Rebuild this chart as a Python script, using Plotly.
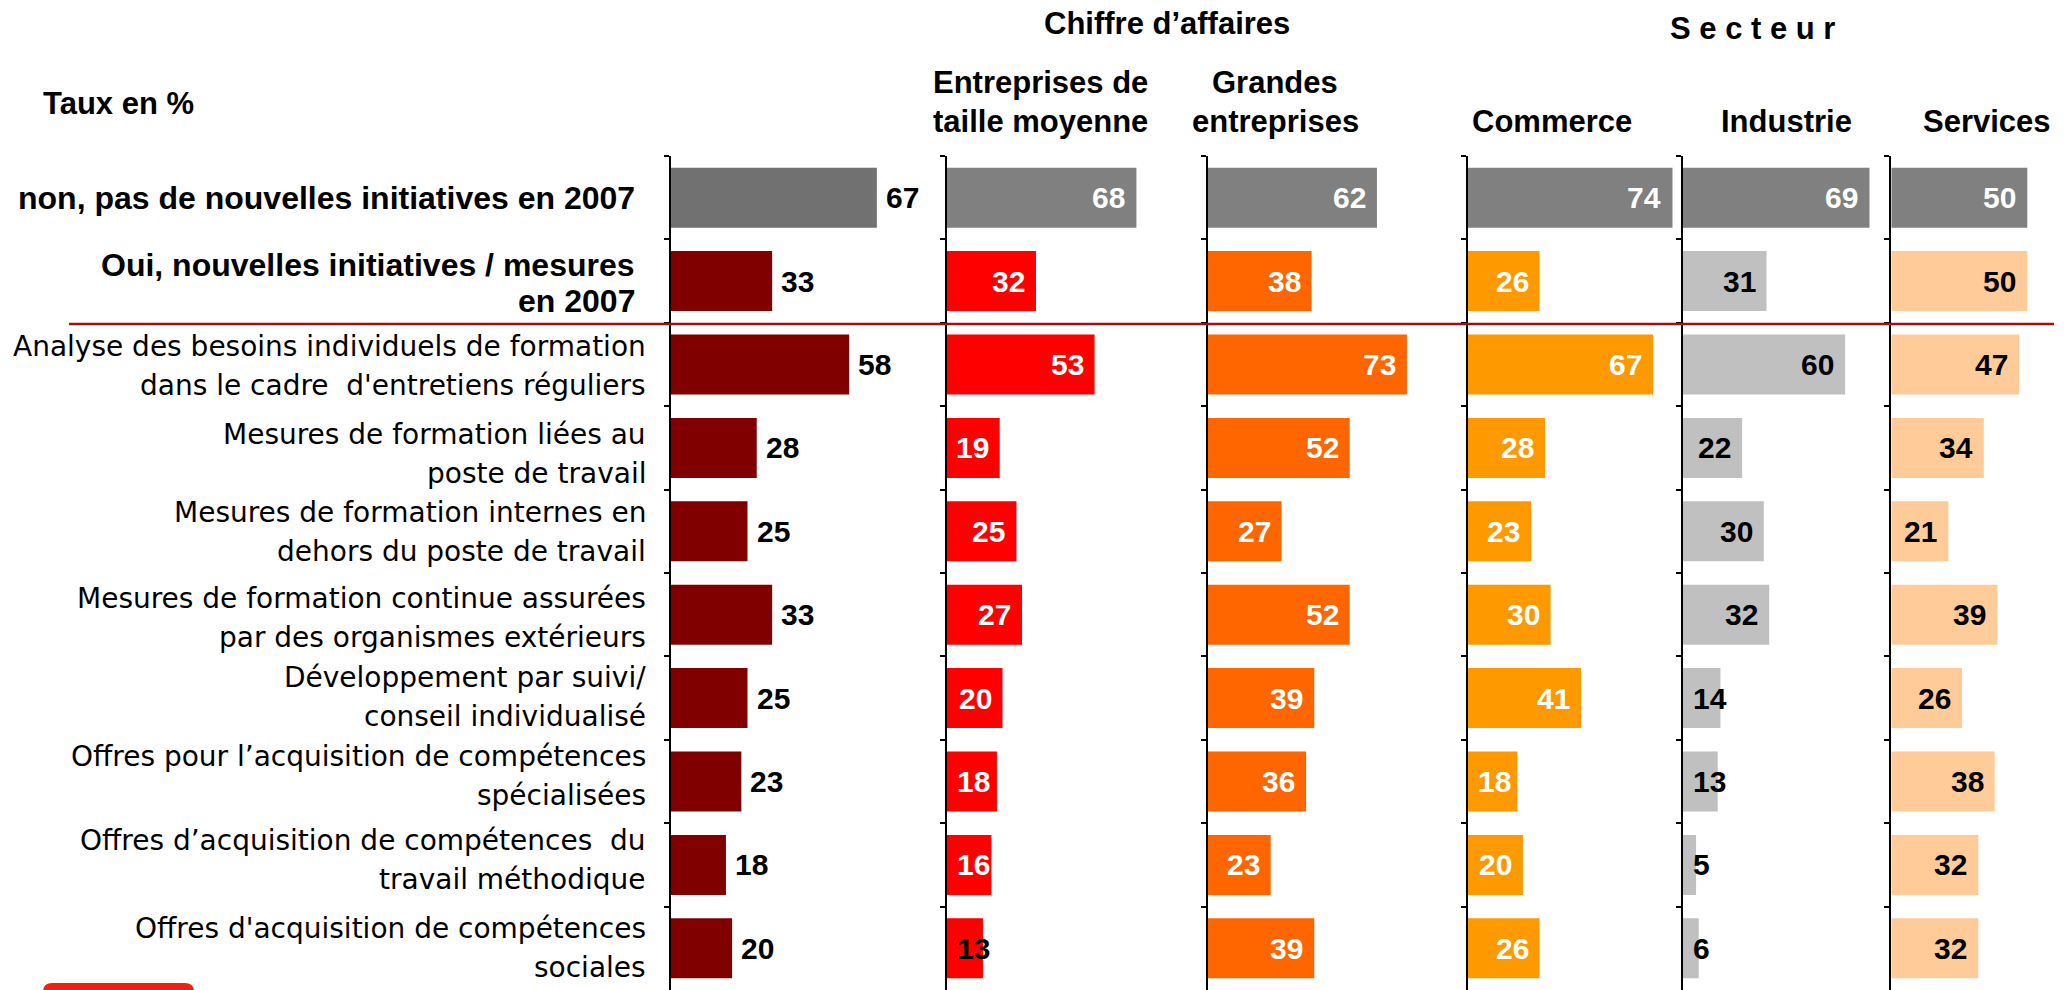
import plotly.graph_objects as go

W, H = 2064, 990

# ---- data -------------------------------------------------------------
categories = [
    "non, pas de nouvelles initiatives en 2007",
    "Oui, nouvelles initiatives / mesures<br>en 2007",
    "Analyse des besoins individuels de formation<br>dans le cadre \u00a0d'entretiens réguliers",
    "Mesures de formation liées au<br>poste de travail",
    "Mesures de formation internes en<br>dehors du poste de travail",
    "Mesures de formation continue assurées<br>par des organismes extérieurs",
    "Développement par suivi/<br>conseil individualisé",
    "Offres pour l’acquisition de compétences<br>spécialisées",
    "Offres d’acquisition de compétences \u00a0du<br>travail méthodique",
    "Offres d'acquisition de compétences<br>sociales",
]
bold_categories = 2  # the two answer rows above the separator

total = [67, 33, 58, 28, 25, 33, 25, 23, 18, 20]
taille_moyenne = [68, 32, 53, 19, 25, 27, 20, 18, 16, 13]
grandes = [62, 38, 73, 52, 27, 52, 39, 36, 23, 39]
commerce = [74, 26, 67, 28, 23, 30, 41, 18, 20, 26]
industrie = [69, 31, 60, 22, 30, 32, 14, 13, 5, 6]
services = [50, 50, 47, 34, 21, 39, 26, 38, 32, 32]

column_headers = [
    [],
    ["Entreprises de", "taille moyenne"],
    ["Grandes", "entreprises"],
    ["Commerce"],
    ["Industrie"],
    ["Services"],
]
group_headers = ["Chiffre d’affaires", "S e c t e u r"]
unit_title = "Taux en %"

# ---- styling ----------------------------------------------------------
BOLD = "Liberation Sans, Arial, sans-serif"
REG = "DejaVu Sans, Liberation Sans, sans-serif"
VFS = 30      # value label size
LFS = 28      # row label size
HFS = 31      # header size
BFS = 32      # bold row label size

# vertical nudge (px, downwards) of each row label block
label_nudge = [0, 2, 1.5, 6, 1, 3, -1, -6, -4.5, 0]

panels = [
    dict(values=total, x0=670.5, ppu=3.08, gray="#717171", color="#800000",
         outside=True, tcol=["black"] * 10),
    dict(values=taille_moyenne, x0=946.7, ppu=2.79, gray="#808080", color="#FF0000",
         outside=False, tcol=["white"] * 9 + ["black"]),
    dict(values=grandes, x0=1208, ppu=2.725, gray="#808080", color="#FF6600",
         outside=False, tcol=["white"] * 10),
    dict(values=commerce, x0=1467.5, ppu=2.77, gray="#808080", color="#FF9900",
         outside=False, tcol=["white"] * 10),
    dict(values=industrie, x0=1682.5, ppu=2.71, gray="#808080", color="#C0C0C0",
         outside=False, tcol=["white"] + ["black"] * 9),
    dict(values=services, x0=1891.3, ppu=2.72, gray="#808080", color="#FFCC99",
         outside=False, tcol=["white"] + ["black"] * 9),
]

PLOT_TOP = 156  # px from top where the category rows start
y_dom = [0, 1 - PLOT_TOP / H]


def px(xp):
    return xp / W


def py(yp):
    return 1 - yp / H


fig = go.Figure()
annotations = []
layout_axes = {}

for i, p in enumerate(panels):
    n = i + 1
    xname = "x" if n == 1 else f"x{n}"
    yname = "y" if n == 1 else f"y{n}"
    nxt = panels[i + 1]["x0"] if i + 1 < len(panels) else W
    end = nxt - 6 if i + 1 < len(panels) else W - 1
    rmax = (end - p["x0"]) / p["ppu"]

    colors = [p["gray"]] + [p["color"]] * (len(categories) - 1)
    fig.add_trace(go.Bar(
        x=p["values"], y=categories, orientation="h",
        marker=dict(color=colors, line=dict(width=0)),
        xaxis=xname, yaxis=yname, hoverinfo="skip", showlegend=False,
    ))

    layout_axes["xaxis" if n == 1 else f"xaxis{n}"] = dict(
        domain=[px(p["x0"]), px(end)], range=[0, rmax], visible=False,
        anchor=yname, fixedrange=True,
    )
    layout_axes["yaxis" if n == 1 else f"yaxis{n}"] = dict(
        domain=y_dom, anchor=xname, type="category",
        categoryorder="array", categoryarray=categories,
        range=[len(categories) - 0.5, -0.5],
        showline=True, linecolor="black", linewidth=2,
        ticks="outside", tickson="boundaries", ticklen=5, tickwidth=2,
        tickcolor="black", showticklabels=False, showgrid=False,
        zeroline=False, fixedrange=True,
    )

    # value labels
    for j, v in enumerate(p["values"]):
        txt = f"<b>{v}</b>"
        base = dict(xref=xname, yref=yname, y=categories[j], yanchor="middle",
                    showarrow=False, borderpad=0, text=txt,
                    font=dict(family=BOLD, size=VFS, color=p["tcol"][j]))
        if p["outside"]:
            annotations.append(dict(base, x=v, xanchor="left", xshift=8))
        else:
            w = len(str(v)) * 0.556 * VFS
            if v * p["ppu"] - 10 - w >= 9:
                annotations.append(dict(base, x=v, xanchor="right", xshift=-10))
            else:
                annotations.append(dict(base, x=0, xanchor="left", xshift=9))

# row labels, one annotation per line so the line spacing stays tight
for j, cat in enumerate(categories):
    lines = cat.split("<br>")
    bold = j < bold_categories
    if bold:
        xr = 636
        offs = [0] if len(lines) == 1 else [-18, 18]
        fnt = dict(family=BOLD, size=BFS, color="black")
    else:
        xr = 647
        offs = [0] if len(lines) == 1 else [-19.5, 19.5]
        fnt = dict(family=REG, size=LFS, color="black")
    for line, o in zip(lines, offs):
        annotations.append(dict(
            xref="paper", yref="y", x=px(xr), y=cat, xanchor="right",
            yanchor="middle", yshift=-(o + label_nudge[j]), showarrow=False,
            borderpad=0, text=f"<b>{line}</b>" if bold else line, font=fnt,
        ))

# headers
hdr_font = dict(family=BOLD, size=HFS, color="black")
annotations.append(dict(xref="paper", yref="paper", x=px(41), y=py(103),
                        xanchor="left", yanchor="middle", showarrow=False,
                        text=f"<b>{unit_title}</b>", font=hdr_font))
annotations.append(dict(xref="paper", yref="paper", x=px(1167), y=py(23),
                        xanchor="center", yanchor="middle", showarrow=False,
                        text=f"<b>{group_headers[0]}</b>", font=hdr_font))
annotations.append(dict(xref="paper", yref="paper", x=px(1752), y=py(29),
                        xanchor="center", yanchor="middle", showarrow=False,
                        text=f"<b>{group_headers[1]}</b>", font=hdr_font))

header_centers = [None, 1040, 1275, 1552, 1786, 1987]
for hc, lines in zip(header_centers, column_headers):
    if not lines:
        continue
    ys = [121] if len(lines) == 1 else [83, 121]
    for line, yy in zip(lines, ys):
        annotations.append(dict(xref="paper", yref="paper", x=px(hc), y=py(yy),
                                xanchor="center", yanchor="middle", showarrow=False,
                                text=f"<b>{line}</b>", font=hdr_font))

# separator between the answer rows and the detail rows, plus corner tab
sep_y = py(324)
r = 9
x0t, x1t, y0t, y1t = 43, 194, 983, 1010
tab_path = (
    f"M {px(x0t)},{py(y1t)} L {px(x0t)},{py(y0t + r)} "
    f"Q {px(x0t)},{py(y0t)} {px(x0t + r)},{py(y0t)} "
    f"L {px(x1t - r)},{py(y0t)} Q {px(x1t)},{py(y0t)} {px(x1t)},{py(y0t + r)} "
    f"L {px(x1t)},{py(y1t)} Z"
)
shapes = [
    dict(type="line", xref="paper", yref="paper", x0=px(69), x1=px(2054),
         y0=sep_y, y1=sep_y, line=dict(color="#A01010", width=2.5), layer="above"),
    dict(type="path", xref="paper", yref="paper", path=tab_path,
         fillcolor="#EE2010", line=dict(width=0), layer="above"),
]

fig.update_layout(
    width=W, height=H,
    margin=dict(l=0, r=0, t=0, b=0),
    paper_bgcolor="white", plot_bgcolor="white",
    bargap=0.28, showlegend=False,
    annotations=annotations, shapes=shapes,
    **layout_axes,
)

fig.write_html("out.html", config={"displayModeBar": False})
